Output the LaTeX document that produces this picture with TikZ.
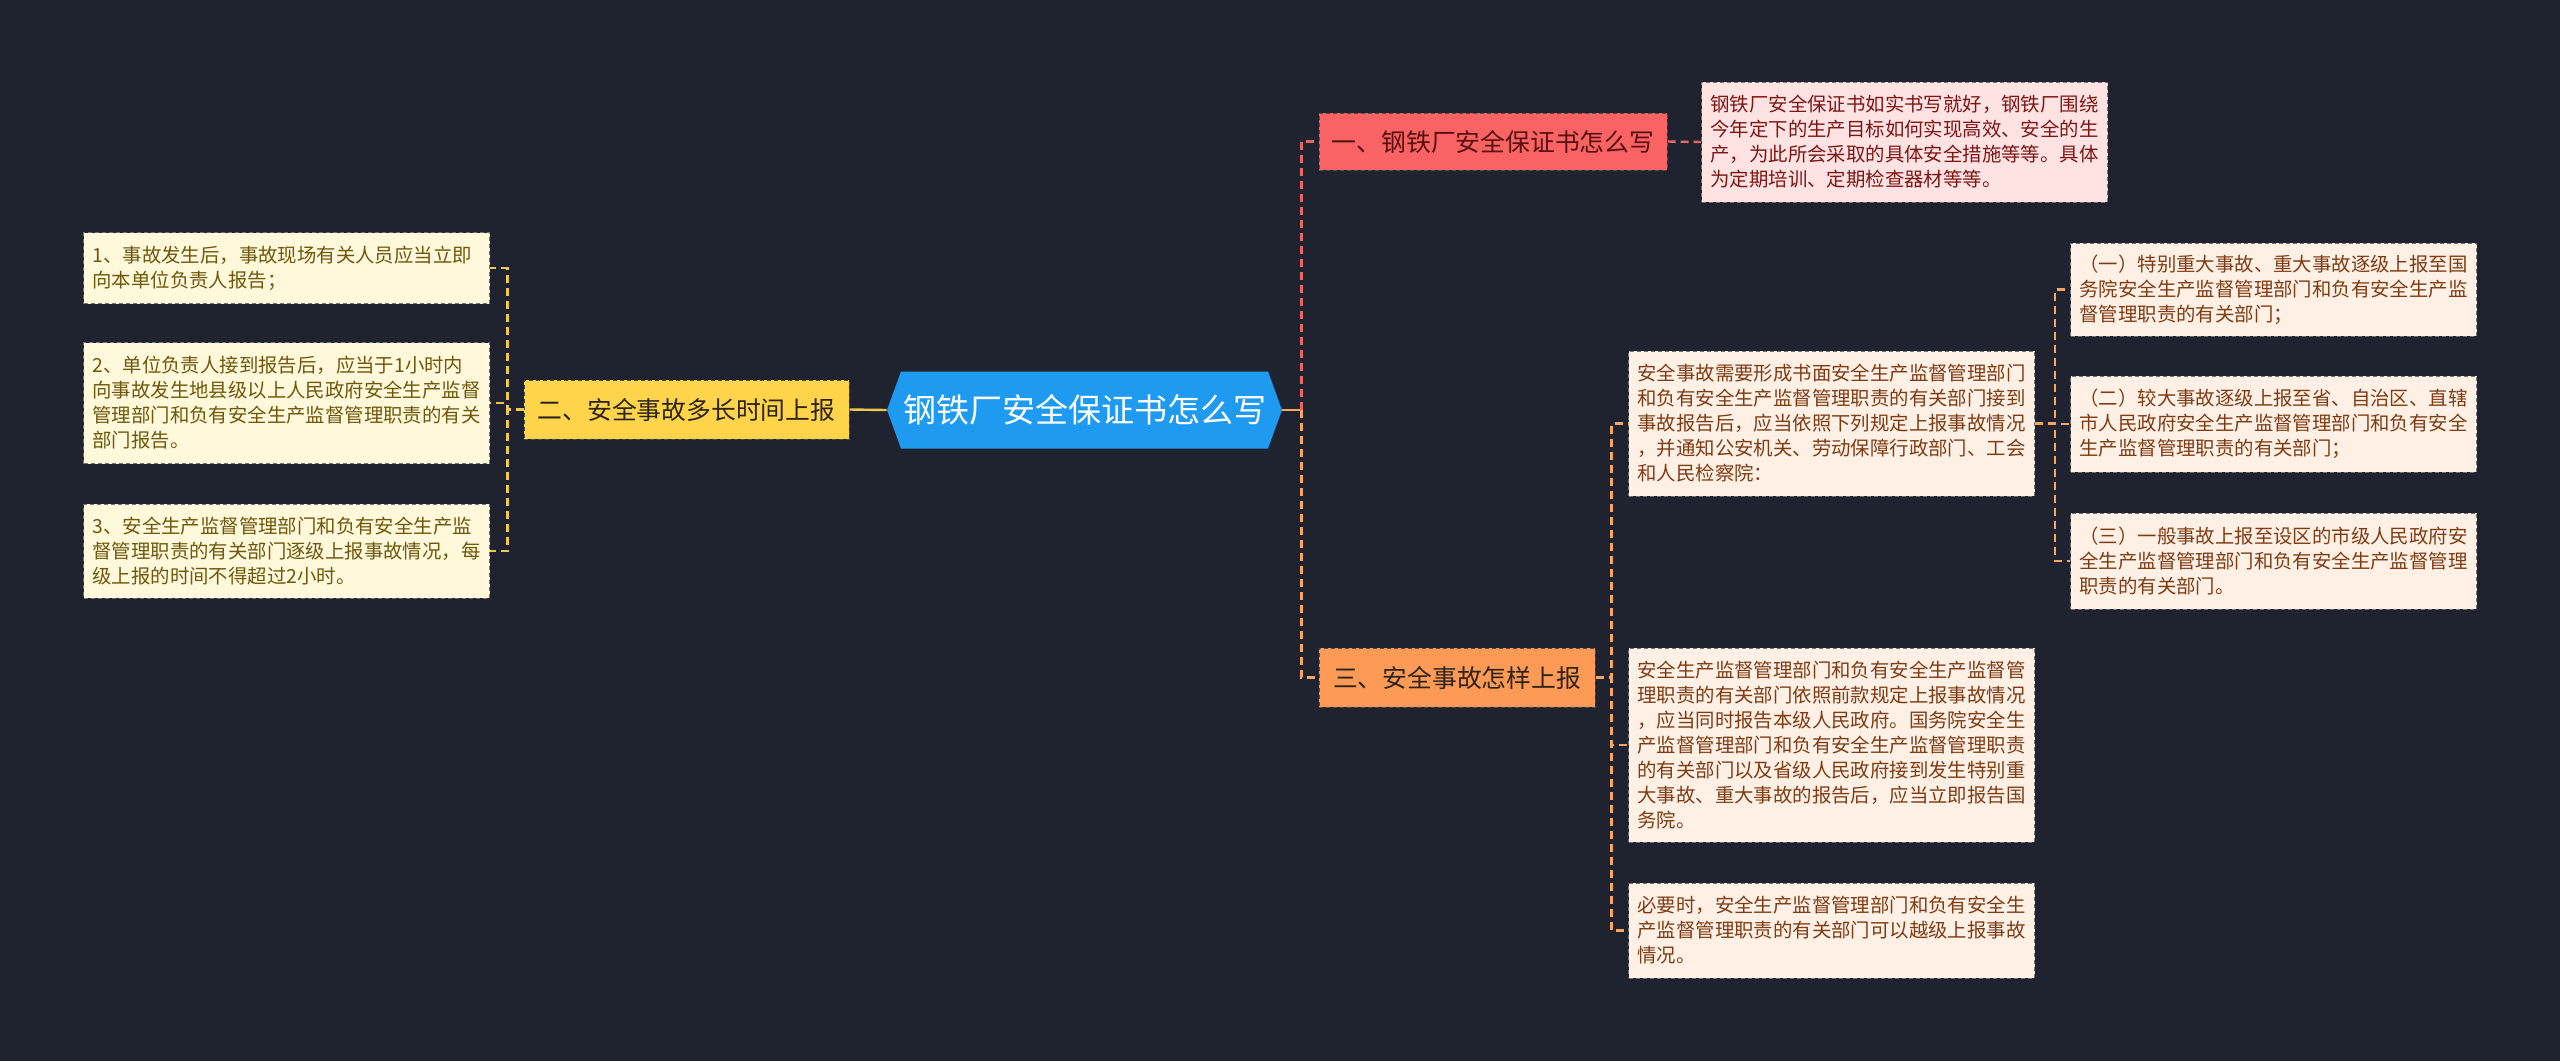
\documentclass[tikz,border=0pt]{standalone}
\usepackage{fontspec}
\setmainfont{Noto Sans CJK SC}
\definecolor{bgnavy}{RGB}{31,35,48}
\definecolor{rootblue}{RGB}{30,155,240}
\definecolor{branchyellow}{RGB}{253,212,74}
\definecolor{branchred}{RGB}{249,99,99}
\definecolor{branchorange}{RGB}{253,154,85}
\definecolor{leafyellow}{RGB}{255,248,219}
\definecolor{leafpink}{RGB}{255,226,226}
\definecolor{leafpeach}{RGB}{255,240,230}
\definecolor{textolive}{RGB}{110,88,12}
\definecolor{textred}{RGB}{125,22,22}
\definecolor{textbrown}{RGB}{125,60,20}
\definecolor{textdark}{RGB}{45,35,25}
\definecolor{linkyellow}{RGB}{240,200,80}
\definecolor{linkred}{RGB}{232,102,102}
\definecolor{linkorange}{RGB}{250,165,95}
\usepackage{tikz}
\usetikzlibrary{shapes.symbols,calc}

\tikzset{
  rootnode/.style={signal, signal to=west and east, signal pointer angle=140,
    fill=rootblue, text=white, inner sep=0pt,
    minimum width=197.5pt, minimum height=38.5pt,
    font=\fontsize{16.5}{20}\selectfont},
  branch/.style={rectangle, draw=black!70, dash pattern=on 2pt off 1.5pt,
    line width=0.5pt, inner sep=0pt, text=textdark,
    font=\fontsize{12.4}{15}\selectfont},
  leaf/.style={rectangle, draw=black!55, dash pattern=on 2pt off 1.5pt,
    line width=0.5pt, anchor=west, align=left, text width=194pt,
    inner xsep=4.5pt, inner ysep=3pt,
    font=\fontsize{9.7}{12.5}\selectfont},
  yleaf/.style={leaf, fill=leafyellow, text=textolive},
  pleaf/.style={leaf, fill=leafpink, text=textred},
  oleaf/.style={leaf, fill=leafpeach, text=textbrown},
  link/.style={line width=1.2pt, dash pattern=on 4pt off 2.5pt},
  ylink/.style={link, draw=linkyellow},
  rlink/.style={link, draw=linkred},
  olink/.style={link, draw=linkorange}
}

\begin{document}
\begin{tikzpicture}[x=0.5pt,y=-0.5pt]
\fill[bgnavy] (0,0) rectangle (2560,1061);

% centre
\node[rootnode] (root) at (1084.5,410) {钢铁厂安全保证书怎么写};

% branches
\node[branch, fill=branchyellow, minimum width=162.5pt, minimum height=29.5pt] (b2) at (686.5,409.5) {二、安全事故多长时间上报};
\node[branch, fill=branchred, text=textred!70!black, minimum width=174pt, minimum height=28.5pt] (b1) at (1493,141.5) {一、钢铁厂安全保证书怎么写};
\node[branch, fill=branchorange, minimum width=138pt, minimum height=29.5pt] (b3) at (1457,677.5) {三、安全事故怎样上报};

% left leaves
\node[yleaf, minimum height=35.5pt] (l1) at (83,268) {1、事故发生后，事故现场有关人员应当立即\\向本单位负责人报告；};
\node[yleaf, minimum height=60.5pt] (l2) at (83,403) {2、单位负责人接到报告后，应当于1小时内\\向事故发生地县级以上人民政府安全生产监督\\管理部门和负有安全生产监督管理职责的有关\\部门报告。};
\node[yleaf, minimum height=47pt] (l3) at (83,551) {3、安全生产监督管理部门和负有安全生产监\\督管理职责的有关部门逐级上报事故情况，每\\级上报的时间不得超过2小时。};

% top right leaf
\node[pleaf, minimum height=60pt] (p1) at (1701,142) {钢铁厂安全保证书如实书写就好，钢铁厂围绕\\今年定下的生产目标如何实现高效、安全的生\\产，为此所会采取的具体安全措施等等。具体\\为定期培训、定期检查器材等等。};

% bottom right leaves
\node[oleaf, minimum height=72.5pt] (a1) at (1628,423.5) {安全事故需要形成书面安全生产监督管理部门\\和负有安全生产监督管理职责的有关部门接到\\事故报告后，应当依照下列规定上报事故情况\\，并通知公安机关、劳动保障行政部门、工会\\和人民检察院：};
\node[oleaf, minimum height=97pt] (a2) at (1628,745) {安全生产监督管理部门和负有安全生产监督管\\理职责的有关部门依照前款规定上报事故情况\\，应当同时报告本级人民政府。国务院安全生\\产监督管理部门和负有安全生产监督管理职责\\的有关部门以及省级人民政府接到发生特别重\\大事故、重大事故的报告后，应当立即报告国\\务院。};
\node[oleaf, minimum height=47.5pt] (a3) at (1628,930.5) {必要时，安全生产监督管理部门和负有安全生\\产监督管理职责的有关部门可以越级上报事故\\情况。};

\node[oleaf, minimum height=46.5pt] (s1) at (2070,289.5) {（一）特别重大事故、重大事故逐级上报至国\\务院安全生产监督管理部门和负有安全生产监\\督管理职责的有关部门；};
\node[oleaf, minimum height=48pt] (s2) at (2070,424) {（二）较大事故逐级上报至省、自治区、直辖\\市人民政府安全生产监督管理部门和负有安全\\生产监督管理职责的有关部门；};
\node[oleaf, minimum height=48pt] (s3) at (2070,561) {（三）一般事故上报至设区的市级人民政府安\\全生产监督管理部门和负有安全生产监督管理\\职责的有关部门。};

% connectors
\draw[linkyellow, line width=1.2pt] (root.west) -- (b2.east);
\foreach \l in {l1,l2,l3}
  \draw[ylink] (b2.west) -- ++(-16,0) |- (\l.east);

\draw[linkorange, line width=1.2pt] (root.east) -- ++(19,0) coordinate (rj);
\draw[rlink] (rj) |- (b1.west);
\draw[olink] (rj) |- (b3.west);
\draw[rlink] (b1.east) -- (p1.west);

\foreach \l in {a1,a2,a3}
  \draw[olink] (b3.east) -- ++(16,0) |- (\l.west);
\foreach \l in {s1,s2,s3}
  \draw[olink] (a1.east) -- ++(20,0) |- (\l.west);
\end{tikzpicture}
\end{document}
